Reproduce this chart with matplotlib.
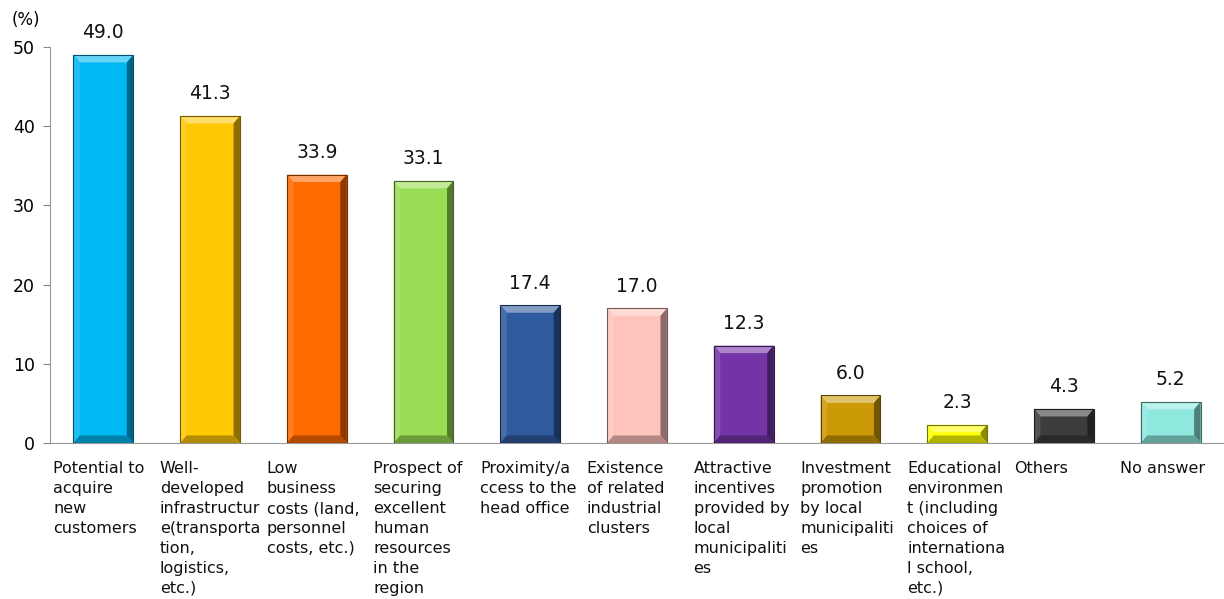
import numpy as np
import matplotlib.pyplot as plt
from matplotlib.patches import Polygon
from matplotlib.colors import to_rgb

categories = [
    "Potential to\nacquire\nnew\ncustomers",
    "Well-\ndeveloped\ninfrastructur\ne(transporta\ntion,\nlogistics,\netc.)",
    "Low\nbusiness\ncosts (land,\npersonnel\ncosts, etc.)",
    "Prospect of\nsecuring\nexcellent\nhuman\nresources\nin the\nregion",
    "Proximity/a\nccess to the\nhead office",
    "Existence\nof related\nindustrial\nclusters",
    "Attractive\nincentives\nprovided by\nlocal\nmunicipaliti\nes",
    "Investment\npromotion\nby local\nmunicipaliti\nes",
    "Educational\nenvironmen\nt (including\nchoices of\ninternationa\nl school,\netc.)",
    "Others",
    "No answer",
]
values = [49.0, 41.3, 33.9, 33.1, 17.4, 17.0, 12.3, 6.0, 2.3, 4.3, 5.2]
colors = ["#00B8F2", "#FFC805", "#FF6A00", "#9BDC55", "#2F5A9E", "#FFC3BD",
          "#7434A8", "#CC9A06", "#FFFF05", "#3C3C3C", "#8EE8DE"]


def shade(c, f):
    # f > 0 mixes towards white, f < 0 towards black
    r = np.array(to_rgb(c))
    return tuple(r + (1 - r) * f) if f > 0 else tuple(r * (1 + f))


fig = plt.figure(figsize=(12.24, 5.99), dpi=100)
ax = fig.add_axes([50 / 1224, 156 / 599, 1 - 50 / 1224, 396 / 599])

x = np.arange(len(values))
w = 0.56
bars = ax.bar(x, values, width=w, color=colors, edgecolor="none", zorder=2)

# bevelled edges on each bar
bx, by = 0.06, 0.95
for xi, v, c in zip(x, values, colors):
    l, r, t = xi - w / 2, xi + w / 2, v
    faces = [
        ([(l, t), (r, t), (r - bx, t - by), (l + bx, t - by)], shade(c, 0.4)),
        ([(l, 0), (l, t), (l + bx, t - by), (l + bx, by)], shade(c, 0.12)),
        ([(r, 0), (r, t), (r - bx, t - by), (r - bx, by)], shade(c, -0.45)),
        ([(l, 0), (r, 0), (r - bx, by), (l + bx, by)], shade(c, -0.3)),
    ]
    for pts, fc in faces:
        ax.add_patch(Polygon(pts, closed=True, facecolor=fc, edgecolor="none", zorder=3))
    ax.add_patch(plt.Rectangle((l, 0), w, t, fill=False, edgecolor=shade(c, -0.55),
                               linewidth=0.8, zorder=4))
    ax.annotate(f"{v:.1f}", (xi, v), xytext=(0, 9), textcoords="offset points",
                ha="center", va="bottom", fontsize=13.5, color="#111111")

ax.set_xlim(-0.5, len(values) - 0.5)
ax.set_ylim(0, 50)
ax.set_yticks(range(0, 51, 10))
ax.tick_params(axis="y", labelsize=12.5, length=5, color="#888888", pad=6)
ax.set_xticks([])
for s in ["top", "right"]:
    ax.spines[s].set_visible(False)
ax.spines["left"].set_color("#999999")
ax.spines["bottom"].set_color("#999999")

for xi, lab in zip(x, categories):
    ax.text(xi - 0.47, -2.3, lab, ha="left", va="top", fontsize=11.5,
            linespacing=1.41, color="#111111")

fig.text(12 / 1224, 1 - 20 / 599, "(%)", fontsize=12, va="center", ha="left")

fig.savefig("out.png", dpi=100)
